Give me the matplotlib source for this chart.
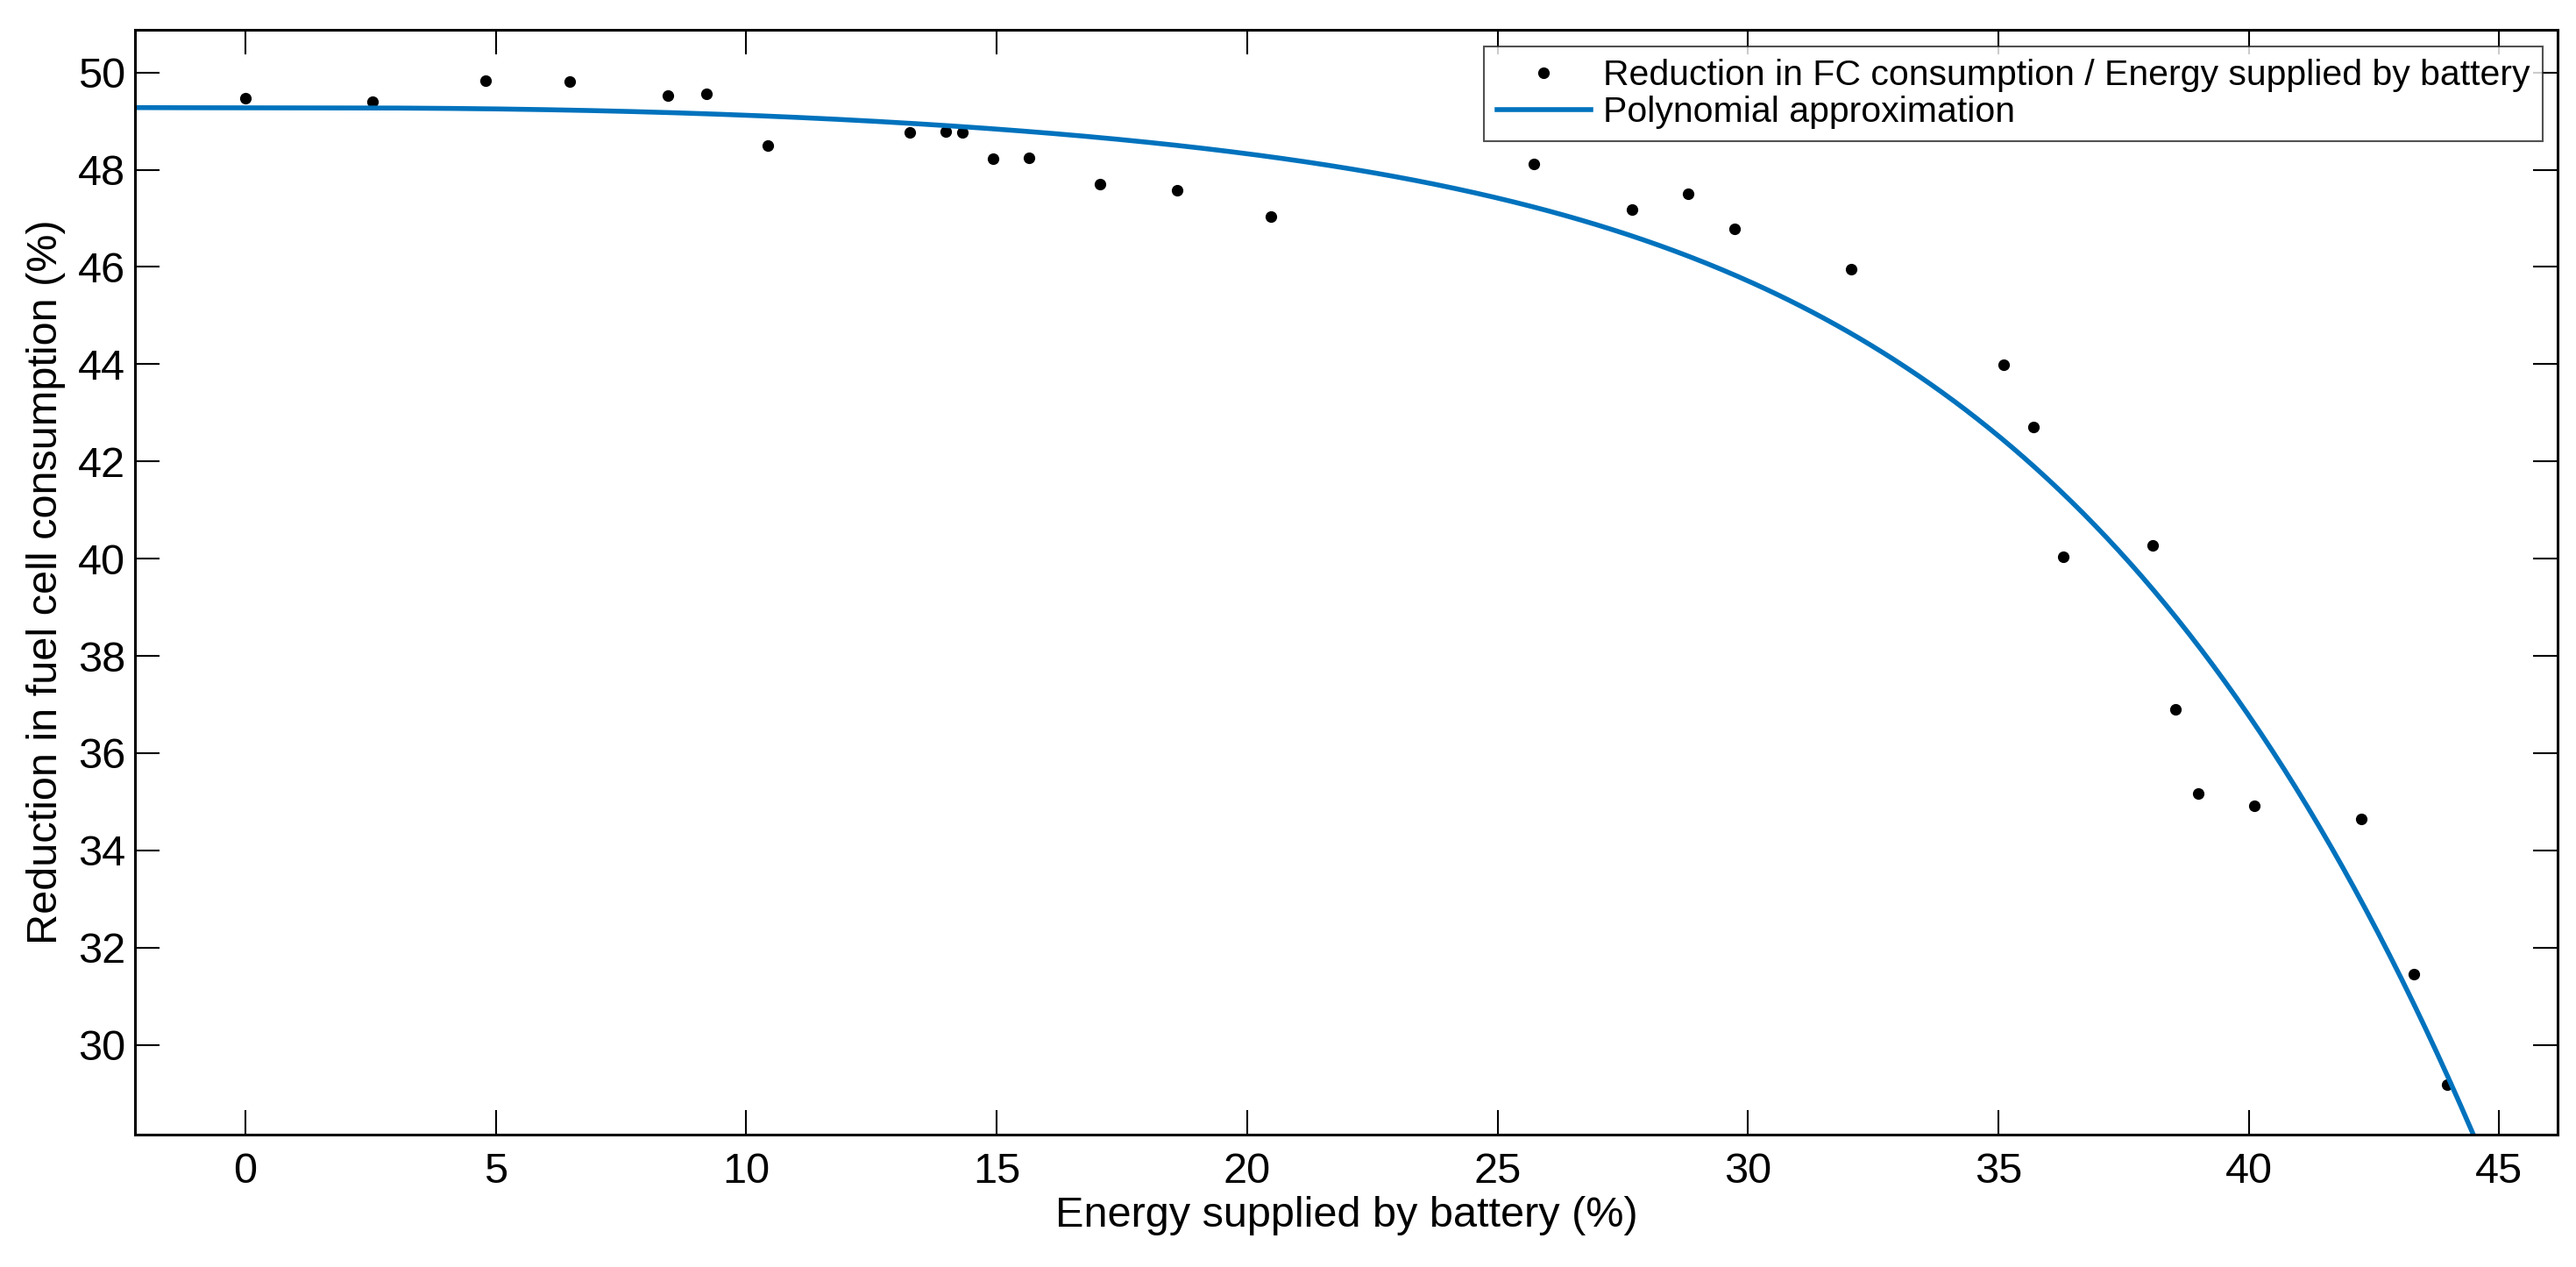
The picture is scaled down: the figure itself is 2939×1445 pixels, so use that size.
import numpy as np
import matplotlib
matplotlib.use("Agg")
import matplotlib.pyplot as plt

# ------------------------------------------------------------
# Data
# ------------------------------------------------------------

# Measured points: energy supplied by battery (%) vs reduction (%)
energy_battery = [
    0.0, 2.53, 4.80, 6.47, 8.43, 9.20, 10.43, 13.27, 13.98, 14.32,
    14.93, 15.65, 17.07, 18.60, 20.47, 25.72, 27.69, 28.81, 29.73, 32.06,
    35.11, 35.70, 36.29, 38.09, 38.54, 38.99, 40.11, 42.24, 43.30, 43.97,
]
fc_reduction = [
    49.47, 49.40, 49.83, 49.81, 49.53, 49.56, 48.49, 48.77, 48.78, 48.77,
    48.23, 48.25, 47.71, 47.57, 47.04, 48.12, 47.18, 47.51, 46.79, 45.96,
    43.99, 42.71, 40.04, 40.28, 36.91, 35.17, 34.91, 34.65, 31.46, 29.19,
]

# Readings taken along the drawn polynomial curve
curve_x = [-2.2, 4.0, 6.65, 10.0, 15.6, 20.0, 24.6, 30.3, 33.3, 35.1, 37.3, 40.5, 42.9, 44.4]
curve_y = [49.24, 49.24, 49.21, 49.12, 48.83, 48.41, 47.53, 45.5, 43.83, 42.4, 40.25, 36.0, 31.96, 28.15]

x_ticks = [0, 5, 10, 15, 20, 25, 30, 35, 40, 45]
y_ticks = [30, 32, 34, 36, 38, 40, 42, 44, 46, 48, 50]

label_points = "Reduction in FC consumption / Energy supplied by battery"
label_curve = "Polynomial approximation"

# ------------------------------------------------------------
# Polynomial through the curve readings.
# Only a constant and higher powers, so the curve stays flat near zero.
# ------------------------------------------------------------

powers = [0, 3, 4, 5]
cx = np.asarray(curve_x)
A = np.column_stack([cx ** p for p in powers])
c, *_ = np.linalg.lstsq(A, np.asarray(curve_y), rcond=None)

xx = np.linspace(-2.3, 44.7, 600)
yy = np.column_stack([xx ** p for p in powers]) @ c

# ------------------------------------------------------------
# Figure
# ------------------------------------------------------------

plt.rcParams["font.family"] = ["Liberation Sans", "DejaVu Sans"]

fig = plt.figure(figsize=(29.39, 14.45), dpi=100)
ax = fig.add_axes([0.0524, 0.1043, 0.9405, 0.8722])

ax.plot(energy_battery, fc_reduction, linestyle="none", marker="o",
        markersize=8.5, color="black", label=label_points)
ax.plot(xx, yy, color="#0072BD", linewidth=4.0, label=label_curve)

ax.set_xlim(-2.206, 46.17)
ax.set_ylim(28.15, 50.878)
ax.set_xticks(x_ticks)
ax.set_yticks(y_ticks)

ax.tick_params(axis="both", which="both", direction="in", length=20,
               width=1.5, top=True, right=True, labelsize=35)
ax.tick_params(axis="x", pad=14)
ax.tick_params(axis="y", pad=8)
for sp in ax.spines.values():
    sp.set_linewidth(2.2)

ax.set_xlabel("Energy supplied by battery (%)", fontsize=35, labelpad=4)
ax.set_ylabel("Reduction in fuel cell consumption (%)", fontsize=35, labelpad=10)

leg = ax.legend(loc="upper right", bbox_to_anchor=(0.99385, 0.98516),
                borderaxespad=0, fontsize=29.5, fancybox=False,
                handlelength=2.63, handletextpad=0.34, borderpad=0.35,
                labelspacing=0.1, markerscale=1.0)
leg.get_frame().set_edgecolor("#262626")
leg.get_frame().set_linewidth(1.5)

fig.savefig("out.png", dpi=100)
